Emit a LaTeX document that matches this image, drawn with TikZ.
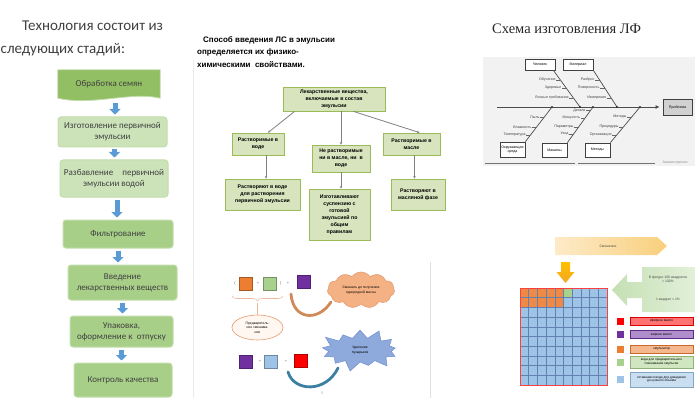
\documentclass[tikz,border=0pt]{standalone}
\usepackage{fontspec}
\setmainfont{Carlito}
\newfontfamily\arialf{Liberation Sans}
\newfontfamily\timesf{Liberation Serif}
\usetikzlibrary{arrows.meta,shapes.symbols,shapes.geometric,calc,decorations.pathreplacing,backgrounds}
\definecolor{stepdark}{HTML}{92BF63}
\definecolor{steplight}{HTML}{CCE3B9}
\definecolor{stepmid}{HTML}{A8CF88}
\definecolor{stepedge}{HTML}{C2DDAA}
\definecolor{arrowblue}{HTML}{5B9BD5}
\definecolor{txtgray}{HTML}{404040}
\definecolor{pfill}{HTML}{D7E4BD}
\definecolor{pedge}{HTML}{9BBB59}
\definecolor{fishbg}{HTML}{F2F2F2}
\definecolor{cloudfill}{HTML}{F4B183}
\definecolor{cloudedge}{HTML}{E59A70}
\definecolor{starfill}{HTML}{8EA9DB}
\definecolor{staredge}{HTML}{6F8FCF}
\definecolor{sqorange}{HTML}{ED7D31}
\definecolor{sqgreen}{HTML}{A9D18E}
\definecolor{sqpurple}{HTML}{7030A0}
\definecolor{sqblue}{HTML}{9DC3E6}
\definecolor{sqred}{HTML}{FF0000}
\definecolor{gridblue}{HTML}{2F5597}
\definecolor{arcbrown}{HTML}{D08A5A}
\definecolor{arcteal}{HTML}{3B7FA3}
\definecolor{banlight}{HTML}{FDEBC8}
\definecolor{bandark}{HTML}{F9CF7D}
\definecolor{calllight}{HTML}{E2F0D9}
\definecolor{calldark}{HTML}{C5E0B4}
\definecolor{yelarrow}{HTML}{FFC000}
\definecolor{yelarrowb}{HTML}{F5A623}

\tikzset{
  stepbox/.style={rounded corners=3pt, draw=stepedge, line width=1pt, fill=stepmid, text=txtgray,
    font=\fontsize{9}{11}\selectfont, align=center, inner sep=1pt},
  flowarrow/.style={draw=arrowblue, line width=5pt, -{Triangle[width=11pt,length=5.5pt]}, shorten <=2pt, shorten >=2pt},
  pbox/.style={draw=pedge, line width=0.8pt, fill=pfill, font=\arialf\bfseries\fontsize{5.2}{7}\selectfont,
    align=center, inner sep=1pt},
  plink/.style={draw=black!50, line width=0.8pt, -{Stealth[length=2.5pt,width=2.5pt]}},
  fishlbl/.style={font=\arialf\fontsize{3.6}{4}\selectfont, text=black!75, inner sep=0.3pt},
  fishbox/.style={draw=black!75, line width=0.8pt, fill=white, font=\arialf\fontsize{3.6}{4}\selectfont,
    inner sep=1pt, align=center},
  fishtick/.style={draw=black!60, line width=0.4pt},
  bone/.style={draw=black!70, line width=0.7pt},
  sq/.style={minimum size=13pt, inner sep=0pt, draw=#1!70!black, line width=0.4pt, fill=#1},
  plus/.style={font=\arialf\fontsize{4}{4}\selectfont, text=black!60, inner sep=0pt},
  legsq/.style={minimum width=7pt, minimum height=7pt, inner sep=0pt, fill=#1},
  legbar/.style={draw=#1!85!black, fill=#1!55, line width=0.6pt, minimum width=63pt,
    font=\arialf\fontsize{3.2}{3.8}\selectfont, align=center, inner sep=0.5pt},
  tinytxt/.style={font=\arialf\fontsize{3.4}{4.4}\selectfont, align=center, inner sep=0pt},
}

\begin{document}
\begin{tikzpicture}[x=1pt,y=-1pt]
\useasboundingbox (0,0) rectangle (695,398);

% ---------------- Panel 1 ----------------
\draw[black!8, line width=0.8pt] (193,60) -- (193,398);
\node[anchor=base west, text=txtgray, font=\fontsize{15}{17}\selectfont, inner sep=0] (t1) at (22,31) {Технология состоит из};
\node[anchor=base west, text=txtgray, font=\fontsize{15}{17}\selectfont, inner sep=0] (t2) at (0.5,54) {следующих стадий:};

\node[minimum width=102pt, minimum height=28pt, inner sep=0, text=txtgray, font=\fontsize{9}{11}\selectfont] (b1) at (109,84) {Обработка семян};
\begin{scope}[on background layer]
\path[fill=stepdark, draw=stepedge, line width=0.8pt] (b1.north west) -- (b1.north east) -- (b1.south east)
  .. controls +(-30,-7) and +(35,8) .. (b1.south west) -- cycle;
\end{scope}
\node[stepbox, fill=steplight, minimum width=109pt, minimum height=30pt] (b2) at (112.5,132) {Изготовление первичной\\эмульсии};
\node[stepbox, fill=steplight, minimum width=108pt, minimum height=37pt] (b3) at (114,178.5) {Разбавление\quad первичной\\эмульсии водой};
\node[stepbox, minimum width=110pt, minimum height=28pt] (b4) at (118,234) {Фильтрование};
\node[stepbox, minimum width=109pt, minimum height=35pt] (b5) at (122.5,282.5) {Введение\\лекарственных веществ};
\node[stepbox, minimum width=103pt, minimum height=31pt] (b6) at (121.5,331.5) {Упаковка,\\оформление к\; отпуску};
\node[stepbox, minimum width=98pt, minimum height=34pt] (b7) at (123,380) {Контроль качества};

\coordinate (fa1) at ($(b1.south)+(6,3)$);
\coordinate (fa2) at ($(b2.south)+(2,0)$);
\coordinate (fa3) at ($(b3.south)+(3,0)$);
\draw[flowarrow] (fa1) -- (fa1 |- b2.north);
\draw[flowarrow] (fa2) -- (fa2 |- b3.north);
\draw[flowarrow] (fa3) -- (fa3 |- b4.north);
\draw[flowarrow] (b4.south) -- (b4.south |- b5.north);
\draw[flowarrow] (b5.south) -- (b5.south |- b6.north);
\draw[flowarrow] (b6.south) -- (b6.south |- b7.north);

% ---------------- Panel 2 ----------------
\node[anchor=north west, align=left, inner sep=0, font=\arialf\bfseries\fontsize{8}{12.5}\selectfont] (ptitle) at (197,36)
  {\hspace{6pt}Способ введения ЛС в эмульсии\\определяется их физико-\\химическими\; свойствами.};

\node[pbox, minimum width=102pt, minimum height=24pt] (p0) at (334,99) {Лекарственные вещества,\\включаемые в состав\\эмульсии};
\node[pbox, minimum width=52pt, minimum height=22pt] (p1) at (258,144) {Растворимые в\\воде};
\node[pbox, minimum width=58pt, minimum height=27pt] (p2) at (341,158.5) {Не растворимые\\ни в масле, ни\; в\\воде};
\node[pbox, minimum width=57pt, minimum height=22pt] (p3) at (411.5,144) {Растворимые в\\масле};
\node[pbox, minimum width=75pt, minimum height=31pt] (q1) at (262.5,194.5) {Растворяют в воде\\для растворения\\первичной эмульсии};
\node[pbox, minimum width=61pt, minimum height=51pt] (q2) at (339.5,214.5) {Изготавливают\\суспензию с\\готовой\\эмульсией по\\общим\\правилам};
\node[pbox, minimum width=54pt, minimum height=31pt] (q3) at (418,194.5) {Растворяют в\\масляной фазе};

\coordinate (pl) at ($(p1.south)+(8,0)$);
\coordinate (pr) at ($(p3.south)+(3,0)$);
\draw[plink] ($(p0.south west)+(12,0)$) -- ($(p1.north)+(10,0)$);
\draw[plink] ($(p0.south east)+(-32,0)$) -- ($(p3.north)+(8,0)$);
\draw[plink] (p2.north |- p0.south) -- (p2.north);
\draw[plink] (pl) -- (pl |- q1.north);
\draw[plink] (p2.south) -- (p2.south |- q2.north);
\draw[plink] (pr) -- (pr |- q3.north);

% ---------------- Panel 3 (fishbone) ----------------
\node[anchor=base west, inner sep=0, font=\timesf\fontsize{14.5}{16}\selectfont, text=black!85] (ftitle) at (492,34) {Схема изготовления ЛФ};
\fill[fishbg] (483,57) rectangle (695,166);

\node[fishbox, fill=black!18, minimum width=29pt, minimum height=16pt] (fhead) at (677.5,107.5) {Проблема};
\coordinate (ftail) at (497,107);
\draw[bone, line width=0.9pt, -{Latex[length=4pt,width=4pt]}, shorten >=3pt] (ftail) -- (ftail -| fhead.west);

\node[fishbox, minimum width=30pt, minimum height=11pt] (fc1) at (540,64.5) {Человек};
\node[fishbox, minimum width=30pt, minimum height=11pt] (fc2) at (578,64.5) {Материал};
\node[fishbox, minimum width=25pt, minimum height=15pt] (fb1) at (512.5,149.5) {Окружающая\\среда};
\node[fishbox, minimum width=25pt, minimum height=14pt] (fb2) at (554.5,150) {Машины};
\node[fishbox, minimum width=25pt, minimum height=14pt] (fb3) at (597.5,150) {Методы};

\coordinate (j1) at (580,107);
\coordinate (j2) at (617,107);
\coordinate (j3) at (552,107);
\coordinate (j4) at (593,107);
\coordinate (j5) at (640,107);
\draw[bone] ($(fc1.south east)+(-2,0)$) -- (j1);
\draw[bone] (fc2.south east) -- (j2);
\draw[bone] (fb1.north east) -- (j3);
\draw[bone] (fb2.north east) -- (j4);
\draw[bone] (fb3.north east) -- (j5);
\foreach \j in {j1,j2,j3,j4,j5} \fill[black!80] (\j) circle (1.1pt);

% top bone 1
\node[fishlbl, anchor=east] (l1) at (556,80) {Обучение}; \draw[fishtick] (l1.east) -- (560,80);
\node[fishlbl, anchor=east] (l2) at (561.5,88) {Здоровье}; \draw[fishtick] (l2.east) -- (566,88);
\node[fishlbl, anchor=east] (l3) at (569,98) {Личные требования}; \draw[fishtick] (l3.east) -- (573.4,98);
% top bone 2
\node[fishlbl, anchor=east] (l4) at (595,80) {Разброс}; \draw[fishtick] (l4.east) -- (599.5,80);
\node[fishlbl, anchor=east] (l5) at (600,88) {Поверхность}; \draw[fishtick] (l5.east) -- (604.7,88);
\node[fishlbl, anchor=east] (l6) at (606.5,98) {Измерения}; \draw[fishtick] (l6.east) -- (611.2,98);
% bottom bone 1
\node[fishlbl, anchor=east] (l7) at (540,117) {Пыль}; \draw[fishtick] (l7.east) -- (544.3,117);
\node[fishlbl, anchor=east] (l8) at (532,127) {Влажность}; \draw[fishtick] (l8.east) -- (536.6,127);
\node[fishlbl, anchor=east] (l9) at (526,135) {Температура}; \draw[fishtick] (l9.east) -- (530.4,135);
% bottom bone 2
\node[fishlbl, anchor=east] (l10) at (586,110.5) {Детали}; \draw[fishtick] (l10.east) -- (590.5,110.5);
\node[fishlbl, anchor=east] (l11) at (580.5,118) {Мощность}; \draw[fishtick] (l11.east) -- (585,118);
\node[fishlbl, anchor=east] (l12) at (574,127) {Параметры}; \draw[fishtick] (l12.east) -- (578.6,127);
\node[fishlbl, anchor=east] (l13) at (569,134) {Уход}; \draw[fishtick] (l13.east) -- (573.5,134);
% bottom bone 3
\node[fishlbl, anchor=east] (l14) at (627,117) {Методы}; \draw[fishtick] (l14.east) -- (631.7,117);
\node[fishlbl, anchor=east] (l15) at (619,127) {Процедуры}; \draw[fishtick] (l15.east) -- (623.3,127);
\node[fishlbl, anchor=east] (l16) at (612,135) {Организация}; \draw[fishtick] (l16.east) -- (616.7,135);

\draw[black!55, line width=0.6pt] (485,163) -- (575,163);
\draw[black!55, line width=0.6pt] (578,163) -- (655,163);
\node[fishlbl, text=black!45] (fnote) at (675,163) {Анализ причин};

% ---------------- Panel 4 ----------------
\draw[black!12, line width=1pt] (430,262) -- (430,398);
\node[plus] (br1) at (235,283.5) {(};
\node[sq=sqorange] (s1) at (246,283.5) {};
\node[plus] (pl1) at (258,283) {+};
\node[sq=sqgreen] (s2) at (270,283.5) {};
\node[plus] (br2) at (280.5,283.5) {)};
\node[plus] (pl2) at (288,283) {+};
\node[sq=sqpurple] (s3) at (303.5,281.5) {};

\draw[decorate, decoration={brace, mirror, amplitude=5pt}, draw=cloudedge!70, line width=0.6pt] (232,296) -- (283,296);
\coordinate (btip) at (257.5,303);
\node[ellipse, draw=cloudedge, fill=orange!6, line width=0.6pt, minimum width=51pt, minimum height=25pt, tinytxt] (e1) at (257.5,327.5)
  {Предваритель-\\ное смешива-\\ние};
\draw[cloudedge!70, line width=0.5pt] (btip) -- (e1.north);

\node[cloud, cloud puffs=11, cloud puff arc=110, aspect=1.9, draw=cloudedge, fill=cloudfill, line width=0.6pt,
  minimum width=67pt, minimum height=36pt, tinytxt, inner sep=0pt] (c1) at (361,290) {Смешать до получения\\однородной массы};

\node[starburst, starburst points=13, starburst point height=11pt, draw=staredge, fill=starfill, line width=0.5pt,
  minimum width=85pt, minimum height=46pt, tinytxt, inner sep=0pt] (st) at (360,350) {Удаление\\пузырьков};

\node[sq=sqpurple] (s4) at (245.5,361.5) {};
\node[plus] (pl3) at (260,361.5) {+};
\node[sq=sqblue] (s5) at (271,361.5) {};
\node[plus] (pl4) at (286,361.5) {+};
\node[sq=sqred] (s6) at (301,361) {};

\coordinate (a1s) at (291,294);
\coordinate (a1e) at (331,302);
\draw[arcbrown, line width=2.8pt, line cap=round] (a1s) .. controls (293,320) and (318,322) .. (a1e);
\coordinate (a2s) at (288,372);
\coordinate (a2e) at (338,368);
\draw[arcteal, line width=2.8pt, line cap=round] (a2s) .. controls (294,392) and (326,393) .. (a2e);
\node[font=\arialf\fontsize{4}{4}\selectfont, text=black!30] (pagemark) at (322,393) {II};

% ---------------- Panel 5 ----------------
\shade[left color=banlight, right color=bandark] (555,237) -- (657,237) -- (667,246) -- (657,255) -- (555,255) -- cycle;
\node[tinytxt, text=black!70] (ban) at (608,246) {Смешение};
\shade[top color=yelarrow, bottom color=yelarrowb] (561,262) -- (570,262) -- (570,272) -- (574.5,272) -- (565.5,283) -- (556.5,272) -- (561,272) -- cycle;

\fill[sqblue] (520,288) rectangle (607,385);
\fill[sqorange!90] (520,288) rectangle (563.5,307.4);
\fill[sqgreen] (563.5,288) rectangle (572.2,297.7);
\foreach \k in {1,...,9} {
  \draw[gridblue!75, line width=0.45pt] ({520+\k*8.7},288) -- ({520+\k*8.7},385);
  \draw[gridblue!75, line width=0.45pt] (520,{288+\k*9.7}) -- (607,{288+\k*9.7});
}
\draw[red!75, line width=0.8pt] (520,288) rectangle (607,385);

\shade[left color=calldark, right color=calllight] (612,290) -- (627,274) -- (627,282) -- (642,282) -- (642,267) -- (695,267)
  -- (695,312) -- (642,312) -- (642,298) -- (627,298) -- (627,306) -- cycle;
\node[tinytxt, text=black!70] (cl1) at (668,279) {В фигуре 100 квадратов\\= 100\%};
\node[tinytxt, text=black!70] (cl2) at (668,300) {1 квадрат = 1\%};

\node[legsq=sqred] (g1) at (620,321) {};
\node[legsq=sqpurple] (g2) at (620,334.5) {};
\node[legsq=sqorange] (g3) at (620,349) {};
\node[legsq=sqgreen] (g4) at (620,362) {};
\node[legsq=sqblue] (g5) at (620,379) {};
\node[legbar=red, minimum height=8pt] (r1) at (661.5,321) {эфирное масло};
\node[legbar=sqpurple, minimum height=8pt] (r2) at (661.5,334.5) {жирное масло};
\node[legbar=sqorange, minimum height=8pt] (r3) at (661.5,349) {эмульгатор};
\node[legbar=sqgreen, minimum height=12pt] (r4) at (661.5,362) {вода для предварительного\\смешивания эмульсии};
\node[legbar=sqblue, minimum height=15pt] (r5) at (661.5,379.5) {оставшаяся вода для доведения\\до нужного объёма};

\end{tikzpicture}
\end{document}
